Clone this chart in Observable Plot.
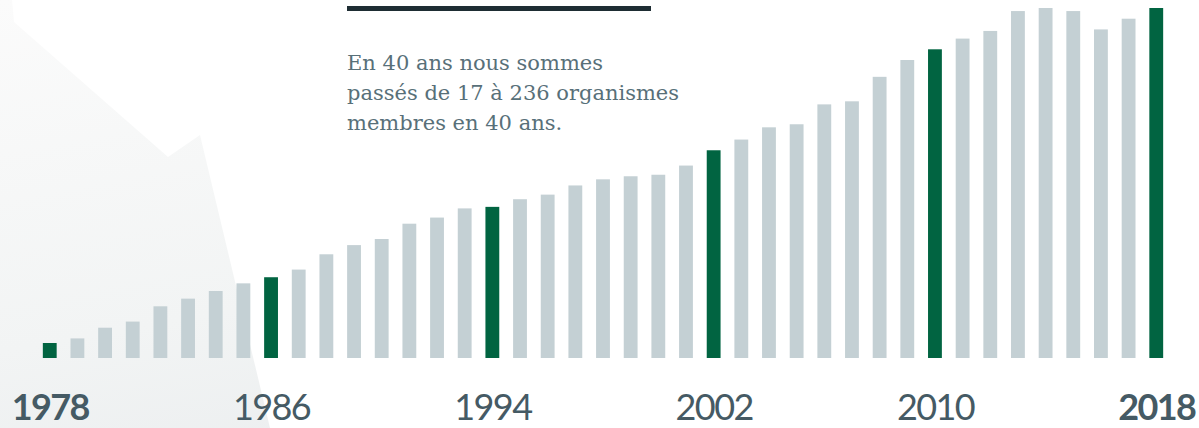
<!DOCTYPE html>
<html>
<head>
<meta charset="utf-8">
<script src="https://cdn.jsdelivr.net/npm/d3@7"></script>
<script src="https://cdn.jsdelivr.net/npm/@observablehq/plot@0.6"></script>
<style>
  html, body { margin: 0; padding: 0; background: #ffffff; }
  #wrap { position: relative; width: 1199px; height: 428px; overflow: hidden; }
  #bg { position: absolute; left: 0; top: 0; width: 1199px; height: 428px;
        background: linear-gradient(170deg, #fbfbfb 0%, #f2f4f4 55%, #e7eaec 100%);
        clip-path: polygon(0px 0px, 12px 0px, 14px 22px, 168px 157px, 200px 135px, 270px 428px, 0px 428px); }
  #chart { position: absolute; left: 0; top: 0; }
  #rule { position: absolute; left: 347px; top: 6px; width: 304px; height: 5px; background: #1e2d33; }
  #note { position: absolute; left: 347px; top: 48px; font-family: "DejaVu Serif", serif; font-size: 21px;
          line-height: 30px; color: #587079; white-space: nowrap; }
</style>
</head>
<body>
<div id="wrap">
  <div id="bg"></div>
  <div id="chart"></div>
  <div id="rule"></div>
  <div id="note">En 40 ans nous sommes<br>passés de 17 à 236 organismes<br>membres en 40 ans.</div>
</div>
<script>
const years = d3.range(1978, 2019);
const members = [17, 20, 27, 31, 41, 46, 51, 56, 60, 65,
                 75, 81, 85, 95, 99, 105, 106, 111, 114, 120,
                 124, 126, 127, 133, 143, 150, 158, 160, 173, 175,
                 191, 202, 209, 216, 221, 234, 236, 234, 222, 229, 236];
const highlightYears = [1978, 1986, 1994, 2002, 2010, 2018];
const boldTicks = [1978, 2018];
const normalTicks = [1986, 1994, 2002, 2010];

const data = years.map((y, i) => ({year: y, count: members[i], hi: highlightYears.includes(y)}));

const chart = Plot.plot({
  width: 1199,
  height: 428,
  marginLeft: 29,
  marginRight: 22,
  marginTop: 8,
  marginBottom: 70,
  style: {background: "transparent", letterSpacing: "-1.6px", overflow: "visible"},
  x: {type: "band", domain: years, padding: 0.5, round: false, axis: null},
  y: {domain: [7.2, 236], axis: null},
  marks: [
    Plot.barY(data, {x: "year", y1: 7.2, y2: "count", fill: d => d.hi ? "#016441" : "#c4d0d4"}),
    Plot.axisX({ticks: normalTicks, tickSize: 0, tickPadding: 36.4, fontSize: 36, fill: "#455a64", label: null,
                tickFormat: d => String(d), fontFamily: "Lato", fontWeight: 400}),
    Plot.axisX({ticks: boldTicks, tickSize: 0, tickPadding: 36.4, fontSize: 36, fill: "#455a64", label: null,
                tickFormat: d => String(d), fontFamily: "Lato", fontWeight: 700})
  ]
});
document.getElementById("chart").appendChild(chart);
</script>
</body>
</html>
